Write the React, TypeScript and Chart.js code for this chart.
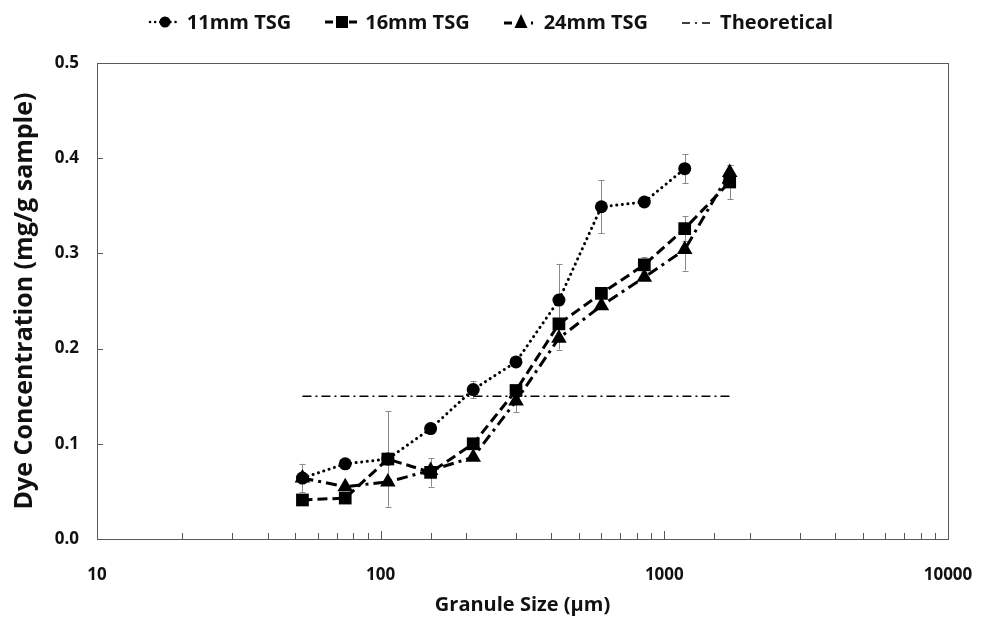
import React, { useEffect, useRef } from "react";
import { Chart, registerables } from "chart.js";

Chart.register(...registerables);

// ---- data ----
const granuleSizes = [53, 75, 106, 150, 212, 300, 425, 600, 850, 1180, 1700];
const tsg11 = [0.064, 0.079, 0.084, 0.116, 0.157, 0.186, 0.251, 0.349, 0.354, 0.389, null];
const tsg11Err = [0, 0, 0.05, 0, 0.009, 0, 0.038, 0.028, 0, 0.015, 0];
const tsg16 = [0.041, 0.043, 0.084, 0.07, 0.1, 0.156, 0.226, 0.258, 0.288, 0.326, 0.375];
const tsg16Err = [0, 0, 0, 0.015, 0, 0, 0, 0, 0.008, 0.013, 0.018];
const tsg24 = [0.064, 0.055, 0.06, 0.072, 0.086, 0.145, 0.211, 0.245, 0.275, 0.304, 0.385];
const tsg24Err = [0.015, 0, 0, 0, 0, 0.012, 0.012, 0, 0, 0.022, 0.008];
const theoreticalX = [53, 1700];
const theoreticalY = [0.15, 0.15];
const xLabelValues = [10, 100, 1000, 10000];
const seriesNames = ["11mm TSG", "16mm TSG", "24mm TSG", "Theoretical"];

const FONT = "'Open Sans', Lato, sans-serif";

const toPoints = (xs: number[], ys: (number | null)[]) =>
  xs.map((x, i) => ({ x, y: ys[i] })).filter((p) => p.y !== null);

const errorSeries = [
  { values: tsg11, errs: tsg11Err },
  { values: tsg16, errs: tsg16Err },
  { values: tsg24, errs: tsg24Err },
];

const errorBarPlugin = {
  id: "errorBars",
  beforeDatasetsDraw(chart: any) {
    const { ctx, scales } = chart;
    const xs = scales.x;
    const ys = scales.y;
    ctx.save();
    ctx.strokeStyle = "#8a8a8a";
    ctx.lineWidth = 1;
    errorSeries.forEach((s) => {
      s.values.forEach((v, i) => {
        const e = s.errs[i];
        if (v === null || !e) return;
        const px = Math.round(xs.getPixelForValue(granuleSizes[i])) + 0.5;
        const pt = ys.getPixelForValue(v + e);
        const pb = ys.getPixelForValue(v - e);
        ctx.beginPath();
        ctx.moveTo(px, pt);
        ctx.lineTo(px, pb);
        ctx.moveTo(px - 3, Math.round(pt) + 0.5);
        ctx.lineTo(px + 3, Math.round(pt) + 0.5);
        ctx.moveTo(px - 3, Math.round(pb) + 0.5);
        ctx.lineTo(px + 3, Math.round(pb) + 0.5);
        ctx.stroke();
      });
    });
    ctx.restore();
  },
};

const framePlugin = {
  id: "frame",
  afterDraw(chart: any) {
    const { ctx, chartArea: a, scales } = chart;
    ctx.save();
    ctx.strokeStyle = "#5a5a5a";
    ctx.lineWidth = 1;
    ctx.strokeRect(a.left + 0.5, a.top + 0.5, a.right - a.left, a.bottom - a.top);
    ctx.beginPath();
    scales.y.ticks.forEach((t: any) => {
      const py = Math.round(scales.y.getPixelForValue(t.value)) + 0.5;
      ctx.moveTo(a.left, py);
      ctx.lineTo(a.left + 6, py);
    });
    scales.x.ticks.forEach((t: any) => {
      const px = Math.round(scales.x.getPixelForValue(t.value)) + 0.5;
      const major = xLabelValues.some((v) => Math.abs(v - t.value) < 1e-6);
      ctx.moveTo(px, a.bottom);
      ctx.lineTo(px, a.bottom - (major ? 8 : 6));
    });
    ctx.stroke();
    ctx.restore();
  },
};

function LegendSample({ kind }: { kind: number }) {
  const common = { stroke: "#000", fill: "none" } as any;
  if (kind === 0)
    return (
      <svg width="34" height="20">
        <line x1="2" y1="10" x2="32" y2="10" {...common} strokeWidth="2.5" strokeDasharray="0.1 5" strokeLinecap="round" />
        <circle cx="17" cy="10" r="5.5" fill="#000" />
      </svg>
    );
  if (kind === 1)
    return (
      <svg width="36" height="20">
        <line x1="1" y1="10" x2="35" y2="10" {...common} strokeWidth="3" strokeDasharray="8 4" />
        <rect x="12" y="4" width="12" height="12" fill="#000" />
      </svg>
    );
  if (kind === 2)
    return (
      <svg width="36" height="20">
        <line x1="1" y1="11" x2="9" y2="11" {...common} strokeWidth="3" />
        <line x1="28" y1="11" x2="30" y2="11" {...common} strokeWidth="3" />
        <polygon points="18,2 24.5,16 11.5,16" fill="#000" />
      </svg>
    );
  return (
    <svg width="34" height="20">
      <line x1="1" y1="11" x2="33" y2="11" {...common} strokeWidth="1.5" strokeDasharray="8 5 2 5" />
    </svg>
  );
}

export default function App() {
  const canvasRef = useRef<HTMLCanvasElement | null>(null);

  useEffect(() => {
    document.body.style.margin = "0";
    const canvas = canvasRef.current;
    if (!canvas) return;
    const tickFont = { family: FONT, size: 17, weight: "bold" as const };
    const chart = new Chart(canvas, {
      type: "line",
      data: {
        datasets: [
          {
            label: seriesNames[0],
            data: toPoints(granuleSizes, tsg11),
            order: 2,
            borderColor: "#000",
            backgroundColor: "#000",
            borderWidth: 3,
            borderDash: [0.1, 5.5],
            borderCapStyle: "round",
            pointStyle: "circle",
            pointRadius: 6.5,
            pointBorderWidth: 0,
            tension: 0,
          },
          {
            label: seriesNames[1],
            data: toPoints(granuleSizes, tsg16),
            order: 1,
            borderColor: "#000",
            backgroundColor: "#000",
            borderWidth: 3,
            borderDash: [10, 5],
            pointStyle: "rect",
            pointRadius: 9,
            pointBorderWidth: 0,
            tension: 0,
          },
          {
            label: seriesNames[2],
            data: toPoints(granuleSizes, tsg24),
            order: 0,
            borderColor: "#000",
            backgroundColor: "#000",
            borderWidth: 3,
            borderDash: [11, 5, 3, 5],
            pointStyle: "triangle",
            pointRadius: 9,
            pointBorderWidth: 0,
            tension: 0,
          },
          {
            label: seriesNames[3],
            data: toPoints(theoreticalX, theoreticalY),
            order: 3,
            borderColor: "#000",
            backgroundColor: "#000",
            borderWidth: 1.5,
            borderDash: [9, 4, 2, 4],
            pointRadius: 0,
            tension: 0,
          },
        ],
      },
      options: {
        responsive: false,
        animation: false,
        devicePixelRatio: 1,
        layout: { padding: { left: 10, right: 33, top: 63, bottom: 0 } },
        plugins: {
          legend: { display: false },
          tooltip: { enabled: false },
        },
        scales: {
          x: {
            type: "logarithmic",
            min: 10,
            max: 10000,
            grid: { display: false, drawTicks: false },
            border: { display: false },
            ticks: {
              autoSkip: false,
              maxRotation: 0,
              minRotation: 0,
              padding: 26,
              color: "#111",
              font: tickFont,
              callback: (v: any) =>
                xLabelValues.some((l) => Math.abs(l - Number(v)) < 1e-6) ? String(Math.round(Number(v))) : "",
            },
            title: {
              display: true,
              text: "Granule Size (µm)",
              color: "#111",
              font: { family: FONT, size: 20, weight: "bold" as const },
              padding: { top: 4, bottom: 3 },
            },
            afterFit: (s: any) => {
              s.height = 81;
              s.paddingLeft = 0;
              s.paddingRight = 0;
            },
          },
          y: {
            min: 0,
            max: 0.5,
            grid: { display: false, drawTicks: false },
            border: { display: false },
            ticks: {
              stepSize: 0.1,
              padding: 18,
              color: "#111",
              font: tickFont,
              callback: (v: any) => Number(v).toFixed(1),
            },
            title: {
              display: true,
              text: "Dye Concentration (mg/g sample)",
              color: "#111",
              font: { family: FONT, size: 25, weight: "bold" as const },
              padding: { top: 0, bottom: 0 },
            },
            afterFit: (s: any) => {
              s.width = 87;
              s.paddingTop = 0;
              s.paddingBottom = 0;
            },
          },
        },
      },
      plugins: [errorBarPlugin, framePlugin],
    } as any);
    return () => chart.destroy();
  }, []);

  return (
    <div style={{ position: "relative", width: 981, height: 620, background: "#fff" }}>
      <canvas ref={canvasRef} width={981} height={620} style={{ display: "block" }} />
      <div
        style={{
          position: "absolute",
          top: 8,
          left: 0,
          width: 981,
          display: "flex",
          justifyContent: "center",
          alignItems: "center",
          gap: 33,
          fontFamily: FONT,
          fontWeight: "bold",
          fontSize: 20,
          color: "#111",
          lineHeight: "28px",
        }}
      >
        {seriesNames.map((n, i) => (
          <div key={n} style={{ display: "flex", alignItems: "center", gap: 5 }}>
            <LegendSample kind={i} />
            <span>{n}</span>
          </div>
        ))}
      </div>
    </div>
  );
}
